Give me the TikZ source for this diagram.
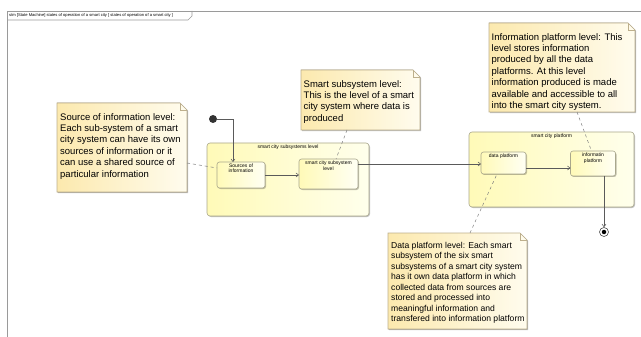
\documentclass[tikz,border=0pt]{standalone}
\usepackage{fontspec}
\setmainfont{Liberation Sans}
\usetikzlibrary{arrows.meta,backgrounds,shadows,calc}
\definecolor{noteA}{HTML}{FCE9AE}
\definecolor{noteB}{HTML}{FFFCEE}
\definecolor{noteline}{HTML}{BDAF8C}
\definecolor{stA}{HTML}{FFFAB8}
\definecolor{stB}{HTML}{FFFFF4}
\definecolor{stline}{HTML}{A9A78C}
\definecolor{compA}{HTML}{FFFAB8}
\definecolor{compB}{HTML}{FFFFEC}
\definecolor{edgec}{HTML}{5A5A5A}
\definecolor{framec}{HTML}{9A9A9A}
\newcommand{\NoteShape}[1]{%
  \fill[left color=noteA, right color=noteB, drop shadow={shadow xshift=1.2pt, shadow yshift=-1.2pt, opacity=0.25, fill=black}]
    (#1.north west) -- ([xshift=-7pt]#1.north east) -- ([yshift=-7pt]#1.north east) -- (#1.south east) -- (#1.south west) -- cycle;
  \draw[noteline, line width=0.6pt]
    (#1.north west) -- ([xshift=-7pt]#1.north east) -- ([yshift=-7pt]#1.north east) -- (#1.south east) -- (#1.south west) -- cycle;
  \draw[noteline, line width=0.6pt] ([xshift=-7pt]#1.north east) -- ([xshift=-7pt,yshift=-7pt]#1.north east) -- ([yshift=-7pt]#1.north east);
}
\tikzset{
  x=1pt, y=-1pt,
  notebox/.style={rectangle, inner sep=0pt, outer sep=0pt, anchor=north west},
  notetext/.style={inner sep=0pt, anchor=north west, align=left, font=\fontsize{9.5}{11.4}\selectfont},
  compbox/.style={rectangle, rounded corners=3pt, draw=stline, line width=0.6pt, left color=compA, right color=compB, inner sep=0pt, outer sep=0pt,
     drop shadow={shadow xshift=1pt, shadow yshift=-1pt, opacity=0.25, fill=black}},
  statebox/.style={rectangle, rounded corners=2.5pt, draw=stline, line width=0.6pt, left color=stA, right color=stB, inner sep=0pt, outer sep=0pt,
     drop shadow={shadow xshift=1pt, shadow yshift=-1pt, opacity=0.25, fill=black}},
  smalltext/.style={inner sep=0.5pt, anchor=north, align=center, font=\fontsize{5}{5.6}\selectfont},
  trans/.style={draw=edgec, line width=0.55pt, -{Straight Barb[length=2.6pt,width=4pt]}},
  notelink/.style={draw=gray, line width=0.5pt, dash pattern=on 3pt off 3pt},
}
\begin{document}
\begin{tikzpicture}
\useasboundingbox (0,0) rectangle (641,337);
% frame
\draw[framec, line width=0.6pt] (7,337) -- (7,11) -- (641,11);
\draw[framec, line width=0.6pt] (7,20) -- (188,20) -- (192,16) -- (192,11);
\node[inner sep=0pt, anchor=west, font=\fontsize{4.1}{4.5}\selectfont] (tabtxt) at (9,15.7) {stm [State Machine] states of operation of a smart city [ states of operation of a smart city ]};

% composite states
\node[compbox, minimum width=162pt, minimum height=73pt] (csub) at (288,179.5) {};
\node[smalltext] (csubt) at ([yshift=-1pt]csub.north) {smart city subsystems level};
\node[compbox, minimum width=165pt, minimum height=75pt] (cplat) at (551.5,169.5) {};
\node[smalltext] (cplatt) at ([yshift=-1pt]cplat.north) {smart city platform};

% simple states
\node[statebox, minimum width=48pt, minimum height=26pt] (src) at (241,175) {};
\node[smalltext] (srct) at ([yshift=-1pt]src.north) {Sources of\\information};
\node[statebox, minimum width=59pt, minimum height=30pt] (sub) at (328.5,174) {};
\node[smalltext] (subt) at ([yshift=-1.5pt]sub.north) {smart city subsystem\\level};
\node[statebox, minimum width=45pt, minimum height=22pt] (dp) at (503.5,163) {};
\node[smalltext] (dpt) at ([yshift=-1.5pt]dp.north) {data platform};
\node[statebox, minimum width=45pt, minimum height=25pt] (ip) at (593,163.5) {};
\node[smalltext] (ipt) at ([yshift=-1.5pt]ip.north) {informatin\\platform};

% pseudo states
\node[circle, fill=black!80, inner sep=0pt, minimum size=8pt] (init) at (213,119) {};
\node[circle, draw=black!70, fill=white, line width=0.6pt, inner sep=0pt, minimum size=9pt] (fin) at (604,232) {};
\node[circle, fill=black, inner sep=0pt, minimum size=4.5pt] (finin) at (fin) {};

% notes
\node[notebox, minimum width=130pt, minimum height=89pt] (n1) at (57,103) {};
\node[notebox, minimum width=119pt, minimum height=60pt] (n2) at (301,70) {};
\node[notebox, minimum width=146pt, minimum height=89pt] (n3) at (489,23) {};
\node[notebox, minimum width=139pt, minimum height=96pt] (n4) at (388,233) {};
\begin{scope}[on background layer]
\NoteShape{n1}
\NoteShape{n2}
\NoteShape{n3}
\NoteShape{n4}
\end{scope}
\node[notetext] (n1t) at ([xshift=3pt,yshift=-10pt]n1.north west) {Source of information level:\\Each sub-system of a smart\\city system can have its own\\sources of information or it\\can use a shared source of\\particular information};
\node[notetext] (n2t) at ([xshift=2.5pt,yshift=-10pt]n2.north west) {Smart subsystem level:\\This is the level of a smart\\city system where data is\\produced};
\node[notetext] (n3t) at ([xshift=2.5pt,yshift=-10pt]n3.north west) {Information platform level: This\\level stores information\\produced by all the data\\platforms. At this level\\information produced is made\\available and accessible to all\\into the smart city system.};
\node[notetext, font=\fontsize{8.6}{10.5}\selectfont] (n4t) at ([xshift=3pt,yshift=-9pt]n4.north west) {Data platform level: Each smart\\subsystem of the six smart\\subsystems of a smart city system\\has it own data platform in which\\collected data from sources are\\stored and processed into\\meaningful information and\\transfered into information platform};

% transitions
\draw[trans] (init.east) -| ([xshift=-8pt]src.north);
\draw[trans] (src.east) -- (src.east -| sub.west);
\draw[trans] ([yshift=-1pt]dp.west -| sub.east) -- ([yshift=-1pt]dp.west);
\draw[trans] ([yshift=-5pt]dp.east) -- ([yshift=-5pt]dp.east -| ip.west);
\draw[trans] (fin.north |- ip.south) -- (fin.north);

% note links
\draw[notelink] ([yshift=-60pt]n1.north east) -- ([yshift=-6pt]src.north west);
\draw[notelink] ([xshift=46pt]n2.south west) -- ([xshift=37pt]sub.north west);
\draw[notelink] ([xshift=88pt]n3.south west) -- ([xshift=21pt]ip.north west);
\draw[notelink] ([xshift=82pt]n4.north west) -- ([xshift=16pt]dp.south west);
\end{tikzpicture}
\end{document}
